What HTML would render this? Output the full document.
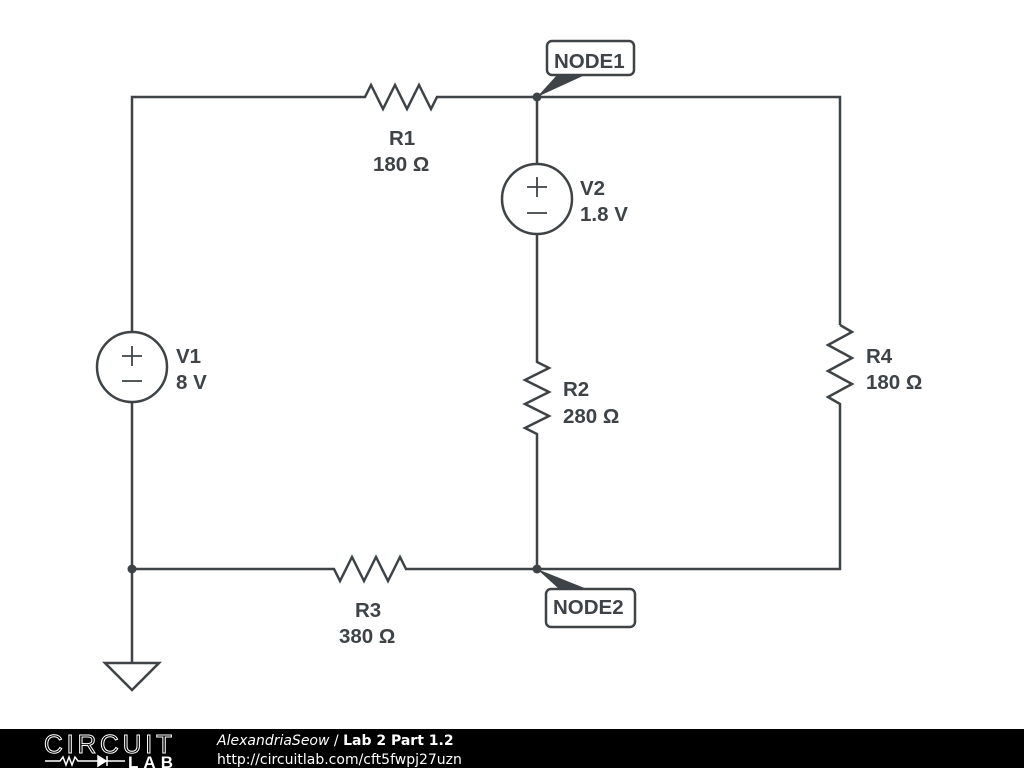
<!DOCTYPE html>
<html><head><meta charset="utf-8"><style>
html,body{margin:0;padding:0;background:#fff;width:1024px;height:768px;overflow:hidden}
svg{display:block}
.l{font-family:"Liberation Sans",sans-serif;font-weight:bold;font-size:20.5px;fill:#3d4347}
</style></head><body>
<svg width="1024" height="768" viewBox="0 0 1024 768">
<g stroke="#3d4347" stroke-width="2.5" fill="none" stroke-linejoin="miter">
<path d="M132 332 V97 H365 L371 85 L383 109 L395 85 L407 109 L419 85 L431 109 L437 97 H840 V325"/>
<path d="M840 325 L852 332 L828 345 L852 358 L828 371 L852 384 L828 397 L840 404 V569 H537"/>
<path d="M537 97 V164"/>
<circle cx="537" cy="199" r="35"/>
<path d="M537 234 V362 L549 368 L525 380 L549 392 L525 404 L549 416 L525 428 L537 434 V569"/>
<path d="M537 569 H406 L400 557 L388 581 L376 557 L364 581 L352 557 L340 581 L334 569 H132"/>
<circle cx="132" cy="367" r="35"/>
<path d="M132 402 V663"/>
<path d="M105 663 H159 L132 690 Z"/>
</g>
<g stroke="#3d4347" stroke-width="1.8" fill="none">
<path d="M527 187 H547 M537 177 V197 M527 213 H547"/>
<path d="M122 356 H142 M132 346 V366 M122 381 H142"/>
</g>
<g stroke="#3d4347" stroke-width="2.5" fill="none">
<rect x="547" y="41" width="87" height="34" rx="5"/>
<rect x="546" y="589" width="89" height="38" rx="5"/>
</g>
<g fill="#3d4347">
<circle cx="537" cy="97" r="4.5"/>
<circle cx="537" cy="569" r="4.5"/>
<circle cx="132" cy="569" r="4.5"/>
<path d="M537 97 L557 75 L585 75 Z"/>
<path d="M537 569 L559 589 L587 589 Z"/>
</g>
<text class="l" x="554" y="68">NODE1</text>
<text class="l" x="553" y="614">NODE2</text>
<text class="l" x="389" y="145">R1</text>
<text class="l" x="373" y="171">180 Ω</text>
<text class="l" x="580" y="195">V2</text>
<text class="l" x="580" y="221">1.8 V</text>
<text class="l" x="176" y="363">V1</text>
<text class="l" x="176" y="389">8 V</text>
<text class="l" x="563" y="396">R2</text>
<text class="l" x="563" y="423">280 Ω</text>
<text class="l" x="866" y="363">R4</text>
<text class="l" x="866" y="389">180 Ω</text>
<text class="l" x="355" y="617">R3</text>
<text class="l" x="339" y="643">380 Ω</text>
<rect x="0" y="729" width="1024" height="39" fill="#000"/>
<text x="44" y="753" font-family="Liberation Sans,sans-serif" font-size="26" textLength="128" fill="none" stroke="#fff" stroke-width="1">CIRCUIT</text>
<path d="M45 761 H60 L63 757 L66 765 L69 757 L72 765 L75 757 L78 761 H125" stroke="#fff" stroke-width="1.5" fill="none"/>
<path d="M98 756 L106 761 L98 766 Z M107 756 V766" fill="#fff" stroke="#fff" stroke-width="1.5"/>
<text x="128" y="768" font-family="Liberation Sans,sans-serif" font-weight="bold" font-size="17" textLength="45" fill="#fff">LAB</text>
<text x="217" y="745" font-family="DejaVu Sans,sans-serif" font-size="14" fill="#fff"><tspan font-style="italic">AlexandriaSeow</tspan> / <tspan font-weight="bold">Lab 2 Part 1.2</tspan></text>
<text x="217" y="764" font-family="DejaVu Sans,sans-serif" font-size="14" fill="#fff">http://circuitlab.com/cft5fwpj27uzn</text>
</svg>
</body></html>
